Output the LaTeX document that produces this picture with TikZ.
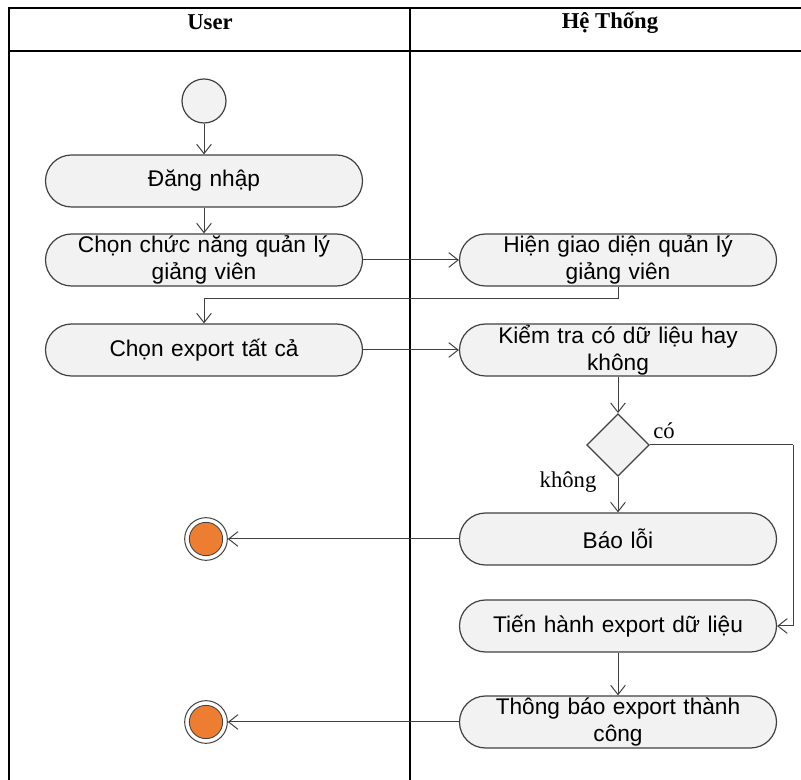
\documentclass[tikz,border=0pt]{standalone}
\usepackage{fontspec}
\setmainfont{Liberation Serif}
\newfontfamily\arialf{Liberation Sans}
\usetikzlibrary{arrows.meta,shapes.geometric}
\definecolor{nodefill}{HTML}{F2F2F2}
\definecolor{edgegray}{HTML}{404040}
\definecolor{endorange}{HTML}{ED7D31}
\tikzset{
  act/.style={draw=edgegray, line width=0.9pt, fill=nodefill, rounded corners=19.5pt,
    minimum width=237.75pt, minimum height=39pt, inner sep=0pt,
    align=center, text width=220pt, font=\arialf\fontsize{17}{20}\selectfont},
  conn/.style={draw=edgegray, line width=0.75pt, -{Straight Barb[length=7pt,width=11pt,line width=0.75pt]}},
  plain/.style={draw=edgegray, line width=0.75pt},
  lane/.style={draw=black, line width=1pt},
  header/.style={font=\bfseries\fontsize{17}{20}\selectfont},
  guard/.style={font=\fontsize{17}{20}\selectfont},
  startnode/.style={circle, draw=edgegray, line width=0.9pt, fill=nodefill, minimum size=33pt, inner sep=0pt},
  endnode/.style={circle, draw=edgegray, line width=0.75pt, fill=white, minimum size=32pt, inner sep=0pt,
    path picture={\fill[endorange, draw=edgegray, line width=0.6pt] (path picture bounding box.center) circle (12.5pt);}},
  decision/.style={diamond, draw=edgegray, line width=0.9pt, fill=nodefill, minimum width=47pt, minimum height=47pt, inner sep=0pt}
}
\begin{document}
\begin{tikzpicture}[x=0.75pt,y=-0.75pt]
\useasboundingbox (0,0) rectangle (801,780);
% swimlanes
\draw[lane] (9,780) -- (9,8) -- (801,8);
\draw[lane] (9,51) -- (801,51);
\draw[lane] (410,8) -- (410,780);
\node[header] (huser) at (210,22) {User};
\node[header] (hsys) at (610,23) {Hệ Thống};
% nodes
\node[startnode] (start) at (204,101) {};
\node[act] (login) at (204,181) {Đăng nhập};
\node[act] (choose) at (204,260) {Chọn chức năng quản lý\\giảng viên};
\node[act] (export) at (204,350) {Chọn export tất cả};
\node[act] (show) at (618,260) {Hiện giao diện quản lý\\giảng viên};
\node[act] (check) at (618,350) {Kiểm tra có dữ liệu hay\\không};
\node[decision] (dec) at (618,445) {};
\node[act] (err) at (618,539) {Báo lỗi};
\node[act] (doexp) at (618,626) {Tiến hành export dữ liệu};
\node[act] (notify) at (618,722) {Thông báo export thành\\công};
\node[endnode] (end1) at (206,539) {};
\node[endnode] (end2) at (206,722) {};
\coordinate (r1) at (618,299);
\coordinate (r2) at (204,299);
\coordinate (c1) at (793,445);
\coordinate (c2) at (793,626);
% connectors
\draw[conn] (start) -- (login);
\draw[conn] (login) -- (choose);
\draw[conn] (choose) -- (show);
\draw[plain] (show.south) -- (r1) -- (r2);
\draw[conn] (r2) -- (export);
\draw[conn] (export) -- (check);
\draw[conn] (check) -- (dec);
\draw[conn] (dec) -- (err);
\draw[plain] (dec.east) -- (c1);
\draw[conn] (c1) -- (c2) -- (doexp);
\draw[conn] (err) -- (end1);
\draw[conn] (doexp) -- (notify);
\draw[conn] (notify) -- (end2);
% guards
\node[guard] (gyes) at (664,431) {có};
\node[guard] (gno) at (568,482) {không};
\end{tikzpicture}
\end{document}
